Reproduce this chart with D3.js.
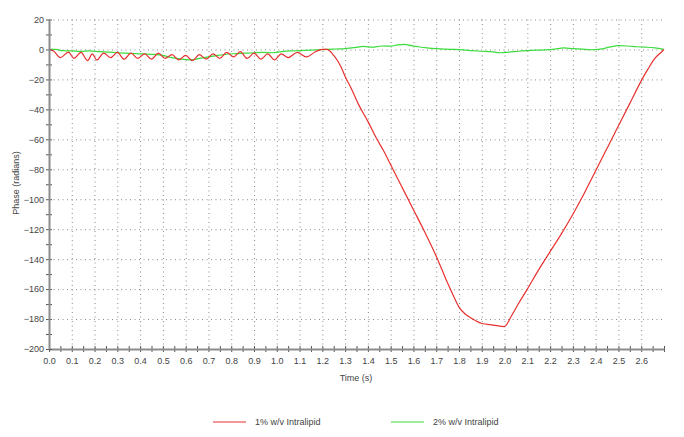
<!DOCTYPE html>
<html>
<head>
<meta charset="utf-8">
<script src="https://cdn.jsdelivr.net/npm/d3@7"></script>
<style>
  body { margin: 0; background: #fff; }
  svg { display: block; font-family: "Liberation Sans", Arial, sans-serif; }
</style>
</head>
<body>
<svg id="chart" width="684" height="437"></svg>
<script>
// ---------------- data ----------------
const seriesNames = ["1% w/v Intralipid", "2% w/v Intralipid"];

const redTime = [0.00,0.02,0.05,0.085,0.11,0.14,0.17,0.19,0.21,0.24,0.27,0.30,0.33,0.36,0.39,0.42,0.45,0.48,0.51,0.54,0.57,0.60,0.63,0.66,0.69,0.72,0.75,0.78,0.81,0.84,0.87,0.90,0.93,0.96,0.99,1.02,1.05,1.09,1.13,1.17,1.20,1.22,
  1.25,1.28,1.30,1.33,1.36,1.40,1.44,1.47,1.50,1.55,1.60,1.65,1.70,1.75,1.78,1.80,1.83,1.86,1.90,1.95,2.00,
  2.03,2.06,2.10,2.15,2.20,2.25,2.30,2.35,2.40,2.45,2.50,2.55,2.60,2.63,2.66,2.69,2.70];
const redPhase = [0,-1,-5.5,-1.8,-6,-2,-7.5,-3,-7,-2.5,-5.5,-2,-6.5,-2.5,-6,-3,-6.5,-2.5,-6,-3.5,-7,-4,-7.5,-3.5,-6.5,-3,-6,-2,-5,-1.5,-6,-2.5,-6.5,-3,-7,-3,-5.5,-2,-5,-1.5,0,0,
  -4,-11,-18,-27,-37,-48,-60,-68,-77,-92,-107,-122,-138,-156,-166,-172,-177,-180,-183,-184,-185,
  -178,-170,-160,-147,-135,-123,-110,-96,-81,-66,-51,-36,-21,-13,-6,-1.5,0];

const greenTime = [0.00,0.03,0.06,0.10,0.14,0.18,0.22,0.26,0.30,0.34,0.38,0.42,0.46,0.50,0.54,0.58,0.62,0.66,0.70,0.74,0.78,0.82,0.86,0.90,0.94,0.98,1.02,1.06,1.10,1.14,1.18,1.22,1.26,1.30,1.34,1.38,1.42,1.46,1.50,1.53,1.56,1.59,1.62,1.66,1.70,1.74,1.78,1.82,1.86,1.90,1.94,1.98,2.02,2.06,2.10,2.14,2.18,2.22,2.26,2.30,2.34,2.38,2.42,2.46,2.50,2.54,2.58,2.62,2.66,2.70];
const greenPhase = [0,0,-0.8,-1,-1.3,-1,-1.5,-1.8,-2.2,-2.5,-2.8,-3,-3.3,-4,-5.5,-6.5,-7,-6,-5,-4,-3.2,-2.8,-2.5,-2.2,-2,-2.2,-1.5,-1,-0.8,-0.5,-0.2,0,0.3,0.6,1.2,2,1.5,2.3,2.2,3,3.4,2.5,1.8,1,0.5,0.2,0,-0.3,-0.8,-1.2,-1.5,-2.2,-1.8,-1.2,-0.8,-0.5,-0.3,0.2,1,0.5,0.2,-0.2,0.2,1.5,2.5,2.3,1.8,1.5,1,0];

const xMajorTicks = d3.range(0, 27).map(i => i / 10);          // 0.0 … 2.6
const xMinorTicks = d3.range(0, 55).map(i => i / 20);          // every 0.05
const yMajorTicks = d3.range(20, -201, -20);                    // 20 … -200
const yMinorTicks = d3.range(20, -201, -10);
const xLabel = "Time (s)";
const yLabel = "Phase (radians)";
const colors = ["#e8312f", "#3bdc3b"];

// ---------------- layout ----------------
const svg = d3.select("#chart");
const x = d3.scaleLinear().domain([0, 2.7]).range([49, 664]);
const y = d3.scaleLinear().domain([-200, 20]).range([349, 19.5]);
const textColor = "#444";
const axisColor = "#8c8c8c";

// grid (dotted)
svg.append("g")
  .attr("transform", `translate(0,${y(-200)})`)
  .call(d3.axisBottom(x).tickValues(xMajorTicks.filter(d => d > 0))
        .tickSize(-(y(-200) - y(20))).tickFormat(""))
  .call(g => g.select(".domain").remove())
  .call(g => g.selectAll("line").attr("stroke", "#8a8a8a").attr("stroke-dasharray", "1,3.5"));

svg.append("g")
  .attr("transform", `translate(${x(0)},0)`)
  .call(d3.axisLeft(y).tickValues(yMajorTicks.filter(d => d > -200))
        .tickSize(-(x(2.7) - x(0))).tickFormat(""))
  .call(g => g.select(".domain").remove())
  .call(g => g.selectAll("line").attr("stroke", "#8a8a8a").attr("stroke-dasharray", "1,3.5"));

// lines
const lineGen = d3.line().curve(d3.curveMonotoneX).x(d => x(d[0])).y(d => y(d[1]));
const redData = redTime.map((t, i) => [t, redPhase[i]]);
const greenData = greenTime.map((t, i) => [t, greenPhase[i]]);

svg.append("path").datum(greenData).attr("d", lineGen)
  .attr("fill", "none").attr("stroke", colors[1]).attr("stroke-width", 1.2);
svg.append("path").datum(redData).attr("d", lineGen)
  .attr("fill", "none").attr("stroke", colors[0]).attr("stroke-width", 1.2);

// x axis minor ticks (crossing)
svg.append("g")
  .attr("transform", `translate(0,${y(-200)})`)
  .call(d3.axisBottom(x).tickValues(xMinorTicks).tickSize(3).tickFormat(""))
  .call(g => g.select(".domain").remove())
  .call(g => g.selectAll("line").attr("y1", -3).attr("stroke", "#555").attr("stroke-width", 1));

// x axis labels + line
svg.append("g")
  .attr("transform", `translate(0,${y(-200)})`)
  .call(d3.axisBottom(x).tickValues(xMajorTicks).tickSize(0).tickPadding(9).tickFormat(d3.format(".1f")))
  .call(g => g.select(".domain").attr("stroke", axisColor).attr("stroke-width", 2))
  .call(g => g.selectAll("text").attr("fill", textColor).attr("font-size", 9)
        .attr("font-family", "'Liberation Sans', Arial, sans-serif"));

// y axis minor ticks (crossing)
svg.append("g")
  .attr("transform", `translate(${x(0)},0)`)
  .call(d3.axisLeft(y).tickValues(yMinorTicks).tickSize(3).tickFormat(""))
  .call(g => g.select(".domain").remove())
  .call(g => g.selectAll("line").attr("x1", 3).attr("stroke", "#555").attr("stroke-width", 1));

// y axis labels + line
svg.append("g")
  .attr("transform", `translate(${x(0)},0)`)
  .call(d3.axisLeft(y).tickValues(yMajorTicks).tickSize(0).tickPadding(5))
  .call(g => g.select(".domain").attr("stroke", axisColor).attr("stroke-width", 2))
  .call(g => g.selectAll("text").attr("fill", textColor).attr("font-size", 9)
        .attr("font-family", "'Liberation Sans', Arial, sans-serif"));

// axis titles
svg.append("text").attr("x", 356).attr("y", 381).attr("text-anchor", "middle")
  .attr("font-size", 9).attr("fill", textColor).text(xLabel);
svg.append("text").attr("transform", "translate(19,183) rotate(-90)").attr("text-anchor", "middle")
  .attr("font-size", 9).attr("fill", textColor).text(yLabel);

// legend
const legendX = [213, 391];
seriesNames.forEach((name, i) => {
  const g = svg.append("g").attr("transform", `translate(${legendX[i]},422)`);
  g.append("line").attr("x1", 0).attr("x2", 33).attr("y1", 0).attr("y2", 0)
    .attr("stroke", colors[i]).attr("stroke-width", 1.2);
  g.append("text").attr("x", 42).attr("y", 3).attr("font-size", 9).attr("fill", textColor).text(name);
});
</script>
</body>
</html>
